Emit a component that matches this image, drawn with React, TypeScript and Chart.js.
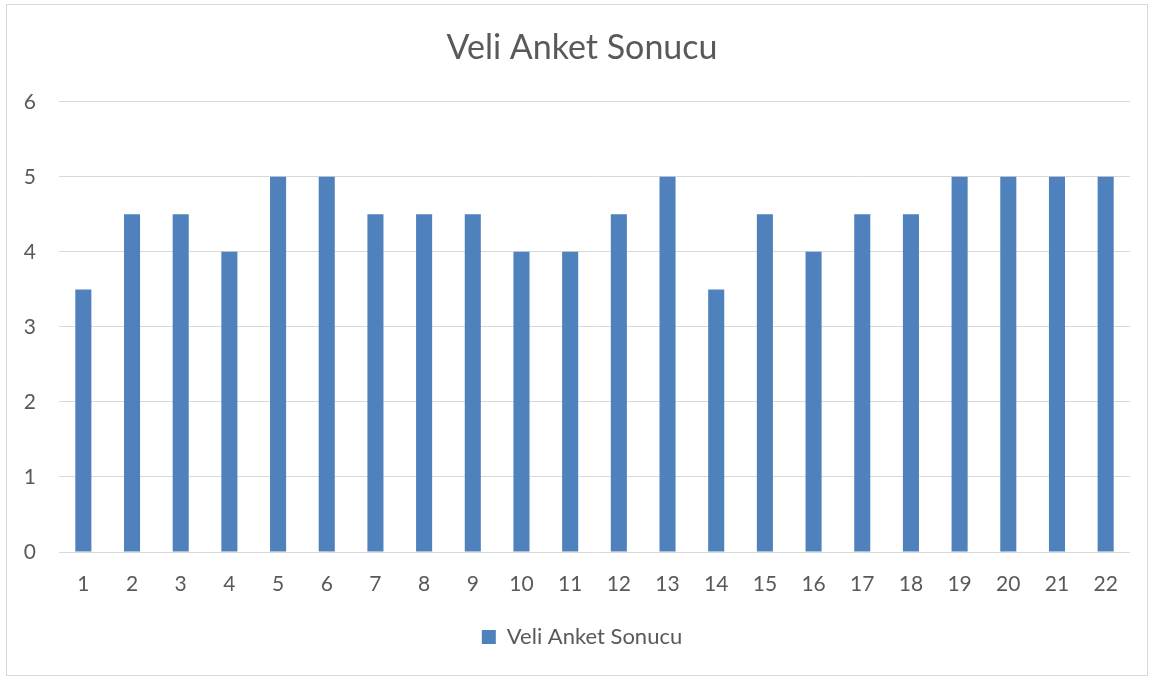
import React, { useEffect, useRef } from "react";
import { Chart, registerables } from "chart.js";

Chart.register(...registerables);

const categories = ["1","2","3","4","5","6","7","8","9","10","11","12","13","14","15","16","17","18","19","20","21","22"];
const seriesValues = [3.5,4.5,4.5,4,5,5,4.5,4.5,4.5,4,4,4.5,5,3.5,4.5,4,4.5,4.5,5,5,5,5];
const seriesLabel = "Veli Anket Sonucu";
const chartTitle = "Veli Anket Sonucu";
const yTicks = [0,1,2,3,4,5,6];

const FONT = "Lato, 'Open Sans', sans-serif";
const TEXT = "#595959";

const centerShift = {
  id: "centerShift",
  afterLayout(chart: any) {
    if (chart.titleBlock) chart.titleBlock.left += 34;
    if (chart.legend) chart.legend.left += 34;
  },
};

export default function App() {
  const ref = useRef<HTMLCanvasElement>(null);
  useEffect(() => {
    document.body.style.margin = "0";
    const chart = new Chart(ref.current!, {
      type: "bar",
      data: {
        labels: categories,
        datasets: [{
          label: seriesLabel,
          data: seriesValues,
          backgroundColor: "#4F81BD",
          borderWidth: 0,
          categoryPercentage: 1,
          barPercentage: 0.33,
        }],
      },
      plugins: [centerShift],
      options: {
        animation: false,
        responsive: false,
        layout: { padding: { left: 0, right: 25, top: 0, bottom: 19 } },
        plugins: {
          title: {
            display: true,
            text: chartTitle,
            color: TEXT,
            font: { family: FONT, size: 34, weight: "normal" },
            padding: { top: 28, bottom: 33 },
          },
          legend: {
            position: "bottom",
            labels: {
              color: TEXT,
              font: { family: FONT, size: 22 },
              boxWidth: 14,
              boxHeight: 14,
              padding: 10,
            },
          },
          tooltip: { enabled: false },
        },
        scales: {
          x: {
            grid: { display: false, drawTicks: false },
            border: { display: false },
            ticks: { color: TEXT, font: { family: FONT, size: 21 }, padding: 20, maxRotation: 0 },
            afterFit: (s: any) => { s.height = 64; },
          },
          y: {
            min: 0,
            max: 6,
            afterBuildTicks: (s: any) => { s.ticks = yTicks.map((v) => ({ value: v })); },
            grid: { color: "#D9D9D9", lineWidth: 1, drawTicks: false },
            border: { display: false },
            ticks: { color: TEXT, font: { family: FONT, size: 21 }, padding: 23 },
            afterFit: (s: any) => { s.width = 59; },
          },
        },
      },
    });
    return () => chart.destroy();
  }, []);
  return (
    <div style={{ position: "relative", width: 1155, height: 677 }}>
      <canvas ref={ref} width={1155} height={677} style={{ display: "block" }} />
      <div style={{ position: "absolute", left: 6, top: 4, width: 1140, height: 670, border: "1px solid #D9D9D9", pointerEvents: "none" }} />
    </div>
  );
}
